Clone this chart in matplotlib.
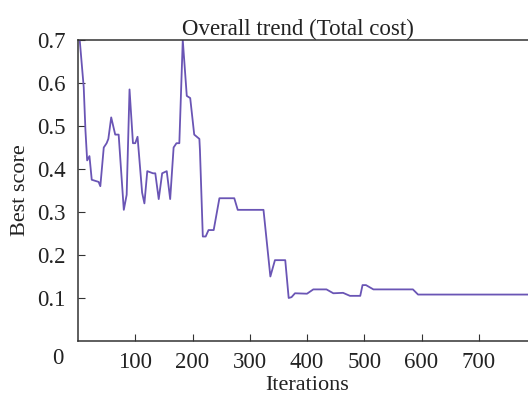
import matplotlib.pyplot as plt

# data
iters = [0, 3, 10, 13, 16, 20, 24, 36, 39, 45, 50, 53, 58, 65, 71, 80, 85, 90,
         96, 100, 104, 112, 116, 121, 131, 135, 141, 147, 155, 161, 167, 172,
         177, 183, 190, 196, 203, 212, 213, 218, 223, 228, 237, 247, 273, 279,
         324, 336, 344, 362, 368, 373, 379, 400, 411, 434, 446, 463, 475, 493,
         497, 503, 516, 585, 594, 800]
best_score = [0.70, 0.70, 0.59, 0.49, 0.42, 0.43, 0.375, 0.37, 0.36, 0.45, 0.46,
              0.47, 0.52, 0.48, 0.48, 0.305, 0.34, 0.585, 0.46, 0.46, 0.475,
              0.345, 0.32, 0.395, 0.39, 0.39, 0.33, 0.39, 0.395, 0.33, 0.45,
              0.46, 0.46, 0.70, 0.57, 0.565, 0.48, 0.47, 0.444, 0.243, 0.243,
              0.258, 0.258, 0.332, 0.332, 0.305, 0.305, 0.15, 0.188, 0.188,
              0.10, 0.102, 0.111, 0.11, 0.12, 0.12, 0.111, 0.112, 0.105, 0.105,
              0.13, 0.13, 0.12, 0.12, 0.108, 0.108]
xtick_vals = [100, 200, 300, 400, 500, 600, 700]
ytick_vals = [0.1, 0.2, 0.3, 0.4, 0.5, 0.6, 0.7]

plt.rcParams['font.family'] = ['Liberation Serif', 'DejaVu Serif']

fig = plt.figure(figsize=(5.28, 3.98), dpi=100)
# axes runs past the right edge of the figure, as in the reference
ax = fig.add_axes([78 / 528, 1 - 341 / 398, 458 / 528, 301 / 398])

ax.plot(iters, best_score, color='#6a55b5', linewidth=1.3)
ax.set_xlim(0, 800)
ax.set_ylim(0, 0.7)

ax.set_xticks(xtick_vals)
ax.set_yticks(ytick_vals)
ax.set_yticklabels([f'{v:.1f}' for v in ytick_vals])
ax.tick_params(direction='in', length=5, labelsize=16.5, color='#333333',
               labelcolor='#222222')
ax.tick_params(axis='x', pad=8)
ax.tick_params(axis='y', pad=9)
for s in ax.spines.values():
    s.set_color('#333333')
    s.set_linewidth(1.1)

ax.text(-0.045, -0.058, '0', transform=ax.transAxes, fontsize=16.5,
        color='#222222', ha='center', va='center')

ax.set_title('Overall trend (Total cost)', fontsize=16.5, pad=2, x=0.48,
             color='#222222')
ax.set_xlabel('Iterations', fontsize=16, labelpad=2, x=0.5, color='#222222')
ax.set_ylabel('Best score', fontsize=16, labelpad=5, color='#222222')

fig.savefig('out.png', dpi=100)
